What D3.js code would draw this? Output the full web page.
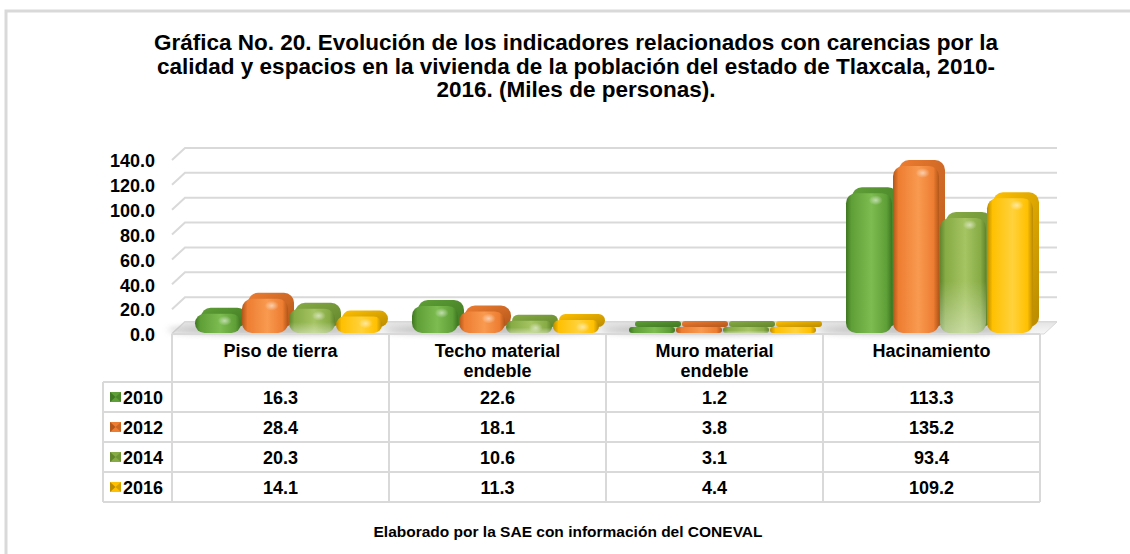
<!DOCTYPE html>
<html><head><meta charset="utf-8">
<script src="https://cdn.jsdelivr.net/npm/d3@7"></script>
<style>
html,body{margin:0;padding:0;background:#fff;}
text{font-family:"Liberation Sans",Arial,sans-serif;font-weight:bold;fill:#000;}
</style></head>
<body>
<script>
// ---- data ----
const categories = ["Piso de tierra", "Techo material endeble", "Muro material endeble", "Hacinamiento"];
const categoryLines = [["Piso de tierra"], ["Techo material", "endeble"], ["Muro material", "endeble"], ["Hacinamiento"]];
const years = ["2010", "2012", "2014", "2016"];
const values2010 = [16.3, 22.6, 1.2, 113.3];
const values2012 = [28.4, 18.1, 3.8, 135.2];
const values2014 = [20.3, 10.6, 3.1, 93.4];
const values2016 = [14.1, 11.3, 4.4, 109.2];
const yTicks = [0, 20, 40, 60, 80, 100, 120, 140];
const titleLines = [
  "Gráfica No. 20. Evolución de los indicadores relacionados con carencias por la",
  "calidad y espacios en la vivienda de la población del estado de Tlaxcala, 2010-",
  "2016. (Miles de personas)."
];
const footer = "Elaborado por la SAE con información del CONEVAL";

// ---- styles ----
const seriesValues = [values2010, values2012, values2014, values2016];
const colBase  = ["#5f9f37", "#ed7d31", "#87ab45", "#ffc000"];
const colLight = ["#7cbc50", "#f89a50", "#a5c463", "#ffd23c"];
const colDark  = ["#3f7722", "#b3561a", "#62852c", "#b98b00"];

const W = 1130, H = 554;
const svg = d3.select("body").append("svg").attr("width", W).attr("height", H);
const defs = svg.append("defs");

// frame
svg.append("path").attr("d", `M6,${H+5} L6,11 L${W+5},11`).attr("fill", "none")
  .attr("stroke", "#d9d9d9").attr("stroke-width", 3);

// title
svg.append("text").attr("x", 576).attr("y", 50).attr("text-anchor", "middle")
  .style("font-size", "22.5px")
  .selectAll("tspan").data(titleLines).join("tspan")
  .attr("x", 576).attr("dy", (d, i) => i === 0 ? 0 : 23.5).text(d => d);

// scales
const tableLeft = 172, tableRight = 1040;
const x = d3.scaleBand().domain(categories).range([tableLeft, tableRight]);
const y = d3.scaleLinear().domain([0, 140]).range([334, 160]);
const DX = 13, DY = -12;   // perspective depth of the plot floor
const x1 = d3.scaleBand().domain(years).range([23, 211]);

// gridlines on back wall + side wall
const grid = svg.append("g");
yTicks.forEach(v => {
  const yy = y(v);
  grid.append("path")
    .attr("d", `M${tableLeft},${yy} L${tableLeft+DX},${yy+DY} L${tableRight+17},${yy+DY}`)
    .attr("fill", "none").attr("stroke", "#d9d9d9").attr("stroke-width", 2);
});

// floor
const floorG = defs.append("linearGradient").attr("id", "floorG").attr("x1", 0).attr("y1", 0).attr("x2", 0).attr("y2", 1);
floorG.append("stop").attr("offset", "0%").attr("stop-color", "#e4e4e4");
floorG.append("stop").attr("offset", "100%").attr("stop-color", "#f7f7f7");
svg.append("path")
  .attr("d", `M${tableLeft},${y(0)} L${tableLeft+DX},${y(0)+DY} L${tableRight+17},${y(0)+DY} L${tableRight+4},${y(0)} Z`)
  .attr("fill", "url(#floorG)").attr("stroke", "#d9d9d9").attr("stroke-width", 1);

// shadows
const blur = defs.append("filter").attr("id", "blur").attr("x", "-20%").attr("y", "-50%").attr("width", "140%").attr("height", "200%");
blur.append("feGaussianBlur").attr("stdDeviation", 3);
categories.forEach(c => {
  svg.append("ellipse")
    .attr("cx", x(c) + x.bandwidth() / 2 - 8).attr("cy", y(0) - 4)
    .attr("rx", 105).attr("ry", 5).attr("fill", "#9a9a9a").attr("opacity", 0.55)
    .attr("filter", "url(#blur)");
});

// gradients for bars
years.forEach((yr, i) => {
  const g = defs.append("linearGradient").attr("id", "front" + i).attr("x1", 0).attr("x2", 1).attr("y1", 0).attr("y2", 0);
  g.append("stop").attr("offset", "0%").attr("stop-color", colDark[i]);
  g.append("stop").attr("offset", "12%").attr("stop-color", colBase[i]);
  g.append("stop").attr("offset", "55%").attr("stop-color", colLight[i]);
  g.append("stop").attr("offset", "88%").attr("stop-color", colBase[i]);
  g.append("stop").attr("offset", "100%").attr("stop-color", colDark[i]);
  const gb = defs.append("linearGradient").attr("id", "back" + i).attr("x1", 0).attr("x2", 1).attr("y1", 0).attr("y2", 1);
  gb.append("stop").attr("offset", "0%").attr("stop-color", colBase[i]);
  gb.append("stop").attr("offset", "100%").attr("stop-color", colDark[i]);
});
const bottomLight = defs.append("linearGradient").attr("id", "bottomLight").attr("x1", 0).attr("x2", 0).attr("y1", 0).attr("y2", 1);
bottomLight.append("stop").attr("offset", "55%").attr("stop-color", "#ffffff").attr("stop-opacity", 0);
bottomLight.append("stop").attr("offset", "100%").attr("stop-color", "#ffffff").attr("stop-opacity", 0.4);
const spot = defs.append("radialGradient").attr("id", "spot");
spot.append("stop").attr("offset", "0%").attr("stop-color", "#ffffff").attr("stop-opacity", 0.55);
spot.append("stop").attr("offset", "100%").attr("stop-color", "#ffffff").attr("stop-opacity", 0);

// bars
const bars = svg.append("g");
const D = 6;
categories.forEach((c, ci) => {
  years.forEach((yr, si) => {
    const v = seriesValues[si][ci];
    const bw = x1.bandwidth() + 1;
    const x0 = x(c) + x1(yr);
    const yBot = y(0) - 1;
    const yTop = Math.min(y(v), yBot - 6);
    const h = yBot - yTop;
    const r = Math.min(10, h / 2);
    const g = bars.append("g");
    g.append("rect").attr("x", x0 + D).attr("y", yTop - D).attr("width", bw - 2).attr("height", h)
      .attr("rx", r).attr("ry", r).attr("fill", `url(#back${si})`);
    g.append("rect").attr("x", x0).attr("y", yTop).attr("width", bw - 2).attr("height", h)
      .attr("rx", r).attr("ry", r).attr("fill", `url(#front${si})`);
    if (si === 2) {
      g.append("rect").attr("x", x0).attr("y", yTop).attr("width", bw - 2).attr("height", h)
        .attr("rx", r).attr("ry", r).attr("fill", "url(#bottomLight)");
    }
    if (h > 12) {
      g.append("ellipse").attr("cx", x0 + bw * 0.62).attr("cy", yTop + 7)
        .attr("rx", 7).attr("ry", 5).attr("fill", "url(#spot)");
    }
  });
});

// y axis
const yAxis = svg.append("g").attr("transform", "translate(157,1)")
  .call(d3.axisLeft(y).tickValues(yTicks).tickFormat(d3.format(".1f")).tickSize(0).tickPadding(2));
yAxis.select(".domain").remove();
yAxis.selectAll("text").style("font-size", "18px").style("font-family", "Liberation Sans, Arial, sans-serif")
  .style("font-weight", "bold").attr("fill", "#000");

// data table
const rowTop = 382, rowH = 30, legendLeft = 103;
const tbl = svg.append("g");
const lineC = "#d9d9d9";
tbl.append("line").attr("x1", tableLeft).attr("x2", tableRight).attr("y1", y(0)).attr("y2", y(0))
  .attr("stroke", lineC).attr("stroke-width", 2);
[...categories.map(c => x(c)), tableRight].forEach(xx => {
  tbl.append("line").attr("x1", xx).attr("x2", xx).attr("y1", y(0)).attr("y2", rowTop + rowH * years.length)
    .attr("stroke", lineC).attr("stroke-width", 2);
});
d3.range(years.length + 1).forEach(k => {
  tbl.append("line").attr("x1", legendLeft).attr("x2", tableRight)
    .attr("y1", rowTop + k * rowH).attr("y2", rowTop + k * rowH)
    .attr("stroke", lineC).attr("stroke-width", 2);
});
tbl.append("line").attr("x1", legendLeft).attr("x2", legendLeft).attr("y1", rowTop).attr("y2", rowTop + rowH * years.length)
  .attr("stroke", lineC).attr("stroke-width", 2);

// header text
categories.forEach((c, ci) => {
  tbl.append("text").attr("x", x(c) + x.bandwidth() / 2).attr("y", 357)
    .attr("text-anchor", "middle").style("font-size", "18px")
    .selectAll("tspan").data(categoryLines[ci]).join("tspan")
    .attr("x", x(c) + x.bandwidth() / 2).attr("dy", (d, i) => i === 0 ? 0 : 20).text(d => d);
});

// rows
years.forEach((yr, si) => {
  const cy = rowTop + si * rowH + rowH / 2;
  const mg = tbl.append("g");
  mg.append("rect").attr("x", 110).attr("y", cy - 5).attr("width", 11).attr("height", 10).attr("fill", colBase[si]);
  mg.append("path").attr("d", `M110,${cy-5} L115.5,${cy} L110,${cy+5} Z`).attr("fill", colDark[si]);
  mg.append("path").attr("d", `M121,${cy-5} L115.5,${cy} L121,${cy+5} Z`).attr("fill", colDark[si]).attr("opacity", 0.6);
  tbl.append("text").attr("x", 123).attr("y", cy + 6.5).style("font-size", "18px").text(yr);
  categories.forEach((c, ci) => {
    tbl.append("text").attr("x", x(c) + x.bandwidth() / 2).attr("y", cy + 6.5)
      .attr("text-anchor", "middle").style("font-size", "18px")
      .text(d3.format(".1f")(seriesValues[si][ci]));
  });
});

// footer
svg.append("text").attr("x", 568).attr("y", 537).attr("text-anchor", "middle")
  .style("font-size", "15.5px").text(footer);
</script>
</body></html>
